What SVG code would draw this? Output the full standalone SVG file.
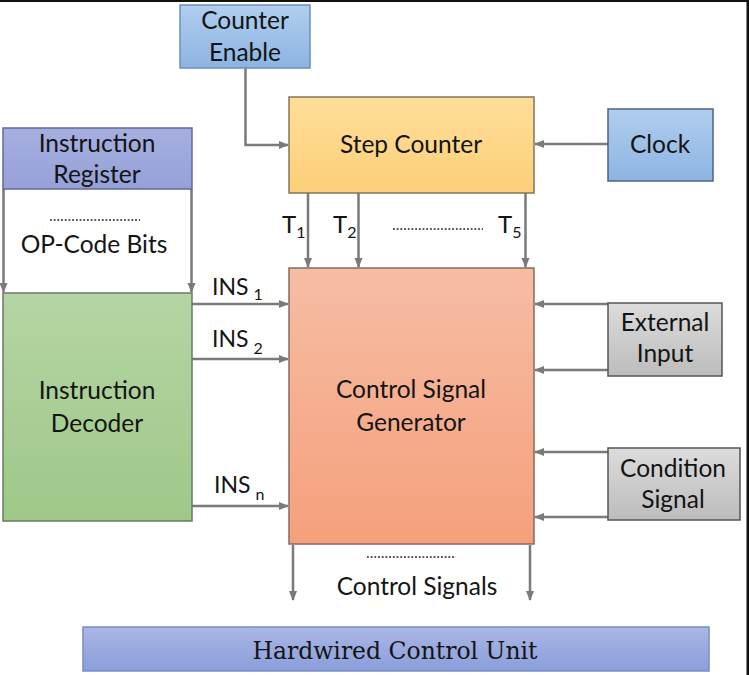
<svg xmlns="http://www.w3.org/2000/svg" width="749" height="675" viewBox="0 0 749 675">
<defs>
<linearGradient id="gBlue" x1="0" y1="0" x2="0" y2="1"><stop offset="0" stop-color="#b0ceee"/><stop offset="1" stop-color="#8cb4e2"/></linearGradient>
<linearGradient id="gLav" x1="0" y1="0" x2="0" y2="1"><stop offset="0" stop-color="#a6afdf"/><stop offset="1" stop-color="#95a1d9"/></linearGradient>
<linearGradient id="gYel" x1="0" y1="0" x2="0" y2="1"><stop offset="0" stop-color="#ffde9a"/><stop offset="1" stop-color="#fccf78"/></linearGradient>
<linearGradient id="gOr" x1="0" y1="0" x2="0" y2="1"><stop offset="0" stop-color="#f6bda3"/><stop offset="1" stop-color="#f5a07c"/></linearGradient>
<linearGradient id="gGr" x1="0" y1="0" x2="0" y2="1"><stop offset="0" stop-color="#b4d5a4"/><stop offset="1" stop-color="#9fc888"/></linearGradient>
<linearGradient id="gGy" x1="0" y1="0" x2="0" y2="1"><stop offset="0" stop-color="#dcdcdc"/><stop offset="1" stop-color="#bcbcbc"/></linearGradient>
<linearGradient id="gBar" x1="0" y1="0" x2="0" y2="1"><stop offset="0" stop-color="#abb7e4"/><stop offset="1" stop-color="#8a9edb"/></linearGradient>
<marker id="ah" viewBox="0 0 10 10" refX="9" refY="5" markerWidth="4" markerHeight="4" orient="auto" markerUnits="strokeWidth"><path d="M0,1 L10,5 L0,9 z" fill="#7a7a7a"/></marker>
</defs>
<style>
.t{font-family:Lato,"Open Sans","Liberation Sans",sans-serif;font-size:24.5px;fill:#141414;text-anchor:middle}
.s{font-family:Lato,"Open Sans","Liberation Sans",sans-serif;font-size:24px;fill:#141414}
.i{font-family:Lato,"Open Sans","Liberation Sans",sans-serif;font-size:23px;fill:#141414}
.sub{font-size:16px}
.box{stroke-width:1.5}
.c{fill:none;stroke:#7a7a7a;stroke-width:2.5;marker-end:url(#ah)}
.dot{fill:none;stroke:#555;stroke-width:2;stroke-dasharray:1.8 1.9}
</style>
<rect width="749" height="675" fill="#fff"/>
<rect x="0" y="0" width="749" height="2" fill="#111"/>
<rect x="746.5" y="0" width="2.5" height="675" fill="#111"/>

<g id="connectors">
<path class="c" d="M245.5,68 V145 H288"/>
<path class="c" d="M608,144 H535"/>
<path class="c" d="M3.5,189 V292"/>
<path class="c" d="M191.5,189 V292"/>
<path class="c" d="M308,193 V267"/>
<path class="c" d="M358.5,193 V267"/>
<path class="c" d="M525.5,193 V267"/>
<path class="c" d="M192,304 H288"/>
<path class="c" d="M192,359 H288"/>
<path class="c" d="M192,506 H288"/>
<path class="c" d="M608,304 H535"/>
<path class="c" d="M608,370 H535"/>
<path class="c" d="M608,452 H535"/>
<path class="c" d="M608,517 H535"/>
<path class="c" d="M293,545 V600"/>
<path class="c" d="M530,545 V600"/>
</g>

<g id="counter-enable">
<rect class="box" x="180" y="5" width="130" height="63" fill="url(#gBlue)" stroke="#6f8fbb"/>
<text class="t" x="245" y="29">Counter</text>
<text class="t" x="245" y="61">Enable</text>
</g>

<g id="instruction-register">
<rect class="box" x="3" y="128" width="189" height="61" fill="url(#gLav)" stroke="#5f6b96"/>
<text class="t" x="97" y="152">Instruction</text>
<text class="t" x="97" y="183">Register</text>
</g>

<g id="opcode-bits">
<line class="dot" x1="50" y1="220" x2="140" y2="220"/>
<text class="t" x="94" y="253">OP-Code Bits</text>
</g>

<g id="step-counter">
<rect class="box" x="289" y="97" width="245" height="96" fill="url(#gYel)" stroke="#857558"/>
<text class="t" x="411" y="153">Step Counter</text>
</g>

<g id="clock">
<rect class="box" x="608" y="109" width="105" height="72" fill="url(#gBlue)" stroke="#4f6385"/>
<text class="t" x="660" y="153">Clock</text>
</g>

<g id="timing-labels">
<text class="s" x="282" y="233">T<tspan class="sub" dy="5">1</tspan></text>
<text class="s" x="333" y="233">T<tspan class="sub" dy="5">2</tspan></text>
<line class="dot" x1="393" y1="229" x2="483" y2="229"/>
<text class="s" x="498" y="233">T<tspan class="sub" dy="5">5</tspan></text>
</g>

<g id="instruction-decoder">
<rect class="box" x="3" y="293" width="189" height="228" fill="url(#gGr)" stroke="#6b7865"/>
<text class="t" x="97" y="399">Instruction</text>
<text class="t" x="97" y="432">Decoder</text>
</g>

<g id="ins-labels">
<text class="i" x="212" y="295">INS<tspan class="sub" dx="5" dy="5">1</tspan></text>
<text class="i" x="212" y="347">INS<tspan class="sub" dx="5" dy="7">2</tspan></text>
<text class="i" x="214" y="493">INS<tspan class="sub" dx="5" dy="7">n</tspan></text>
</g>

<g id="control-signal-generator">
<rect class="box" x="289" y="268" width="245" height="276" fill="url(#gOr)" stroke="#866a5f"/>
<text class="t" x="411" y="398">Control Signal</text>
<text class="t" x="411" y="431">Generator</text>
</g>

<g id="external-input">
<rect class="box" x="608" y="303" width="114" height="73" fill="url(#gGy)" stroke="#555"/>
<text class="t" x="665" y="331">External</text>
<text class="t" x="665" y="362">Input</text>
</g>

<g id="condition-signal">
<rect class="box" x="608" y="448" width="132" height="72" fill="url(#gGy)" stroke="#555"/>
<text class="t" x="673" y="477">Condition</text>
<text class="t" x="673" y="508">Signal</text>
</g>

<g id="control-signals">
<line class="dot" x1="367" y1="557" x2="456" y2="557"/>
<text class="t" x="417" y="595">Control Signals</text>
</g>

<g id="hardwired-control-unit">
<rect class="box" x="83" y="627" width="626" height="44" fill="url(#gBar)" stroke="#7a8cc6"/>
<text x="395" y="659" text-anchor="middle" font-family="'DejaVu Serif','Liberation Serif',serif" font-size="23.5" fill="#141414">Hardwired Control Unit</text>
</g>
</svg>
